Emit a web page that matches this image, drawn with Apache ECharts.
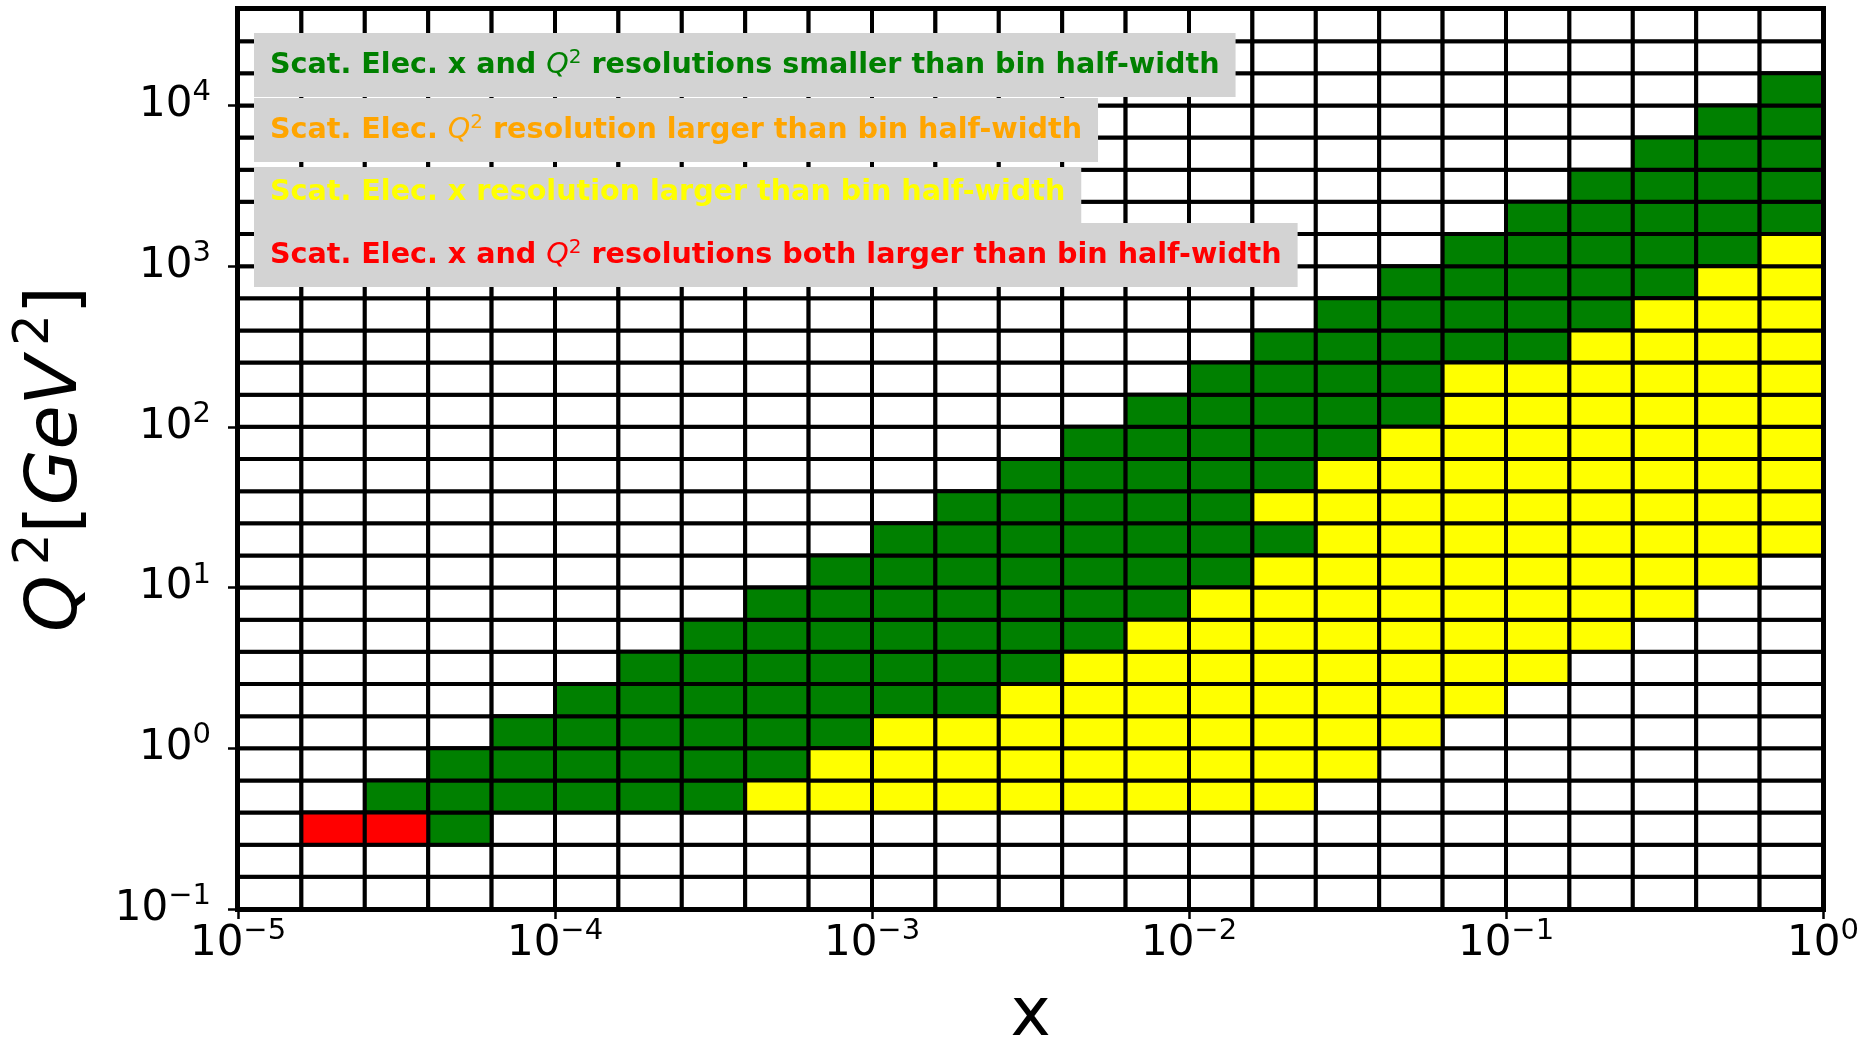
<!DOCTYPE html>
<html>
<head>
<meta charset="utf-8">
<script src="https://cdn.jsdelivr.net/npm/echarts@6/dist/echarts.min.js"></script>
<style>
  html, body { margin: 0; padding: 0; background: #ffffff; }
  #chart { width: 1870px; height: 1044px; }
</style>
</head>
<body>
<div id="chart"></div>
<script>
// ---------------- DATA ----------------
// bin edges, as powers of ten (log10 of the edge value)
const xBinEdgeExp = [-5.0, -4.8, -4.6, -4.4, -4.2, -4.0, -3.8, -3.6, -3.4, -3.2, -3.0,
  -2.8, -2.6, -2.4, -2.2, -2.0, -1.8, -1.6, -1.4, -1.2, -1.0, -0.8, -0.6, -0.4, -0.2, 0.0];
const q2BinEdgeExp = [-1.0, -0.8, -0.6, -0.4, -0.2, 0.0, 0.2, 0.4, 0.6, 0.8, 1.0, 1.2, 1.4,
  1.6, 1.8, 2.0, 2.2, 2.4, 2.6, 2.8, 3.0, 3.2, 3.4, 3.6, 3.8, 4.0, 4.2, 4.4, 4.6];

// bins by status: [Q2 bin index, first x bin index, last x bin index]
const greenBins = [
  [2, 3, 3], [3, 2, 7], [4, 3, 8], [5, 4, 9], [6, 5, 11], [7, 6, 12], [8, 7, 13],
  [9, 8, 14], [10, 9, 15], [11, 10, 16], [12, 11, 15], [13, 12, 16], [14, 13, 17],
  [15, 14, 18], [16, 15, 18], [17, 16, 20], [18, 17, 21], [19, 18, 22], [20, 19, 23],
  [21, 20, 24], [22, 21, 24], [23, 22, 24], [24, 23, 24], [25, 24, 24]
];
const orangeBins = [];
const yellowBins = [
  [3, 8, 16], [4, 9, 17], [5, 10, 18], [6, 12, 19], [7, 13, 20], [8, 14, 21],
  [9, 15, 22], [10, 16, 23], [11, 17, 24], [12, 16, 24], [13, 17, 24], [14, 18, 24],
  [15, 19, 24], [16, 19, 24], [17, 21, 24], [18, 22, 24], [19, 23, 24], [20, 24, 24]
];
const redBins = [[2, 1, 2]];

// tick labels (powers of ten)
const xMajorTicks = [-5, -4, -3, -2, -1, 0];
const yMajorTicks = [-1, 0, 1, 2, 3, 4];
const minorMantissas = [2, 3, 4, 5, 6, 7, 8, 9];

const legendLabels = [
  { pre: 'Scat. Elec. x and ', q: true, post: ' resolutions smaller than bin half-width', color: '#008000' },
  { pre: 'Scat. Elec. ', q: true, post: ' resolution larger than bin half-width', color: '#ffa500' },
  { pre: 'Scat. Elec. x resolution larger than bin half-width', q: false, post: '', color: '#ffff00' },
  { pre: 'Scat. Elec. x and ', q: true, post: ' resolutions both larger than bin half-width', color: '#ff0000' }
];

// ---------------- BUILD ----------------
const FONT = 'DejaVu Sans';

function expand(list) {
  const out = [];
  list.forEach(function (b) { for (let c = b[1]; c <= b[2]; c++) out.push([b[0], c]); });
  return out;
}
function cellValue(rc) {
  const r = rc[0], c = rc[1];
  return [xBinEdgeExp[c], xBinEdgeExp[c + 1], q2BinEdgeExp[r], q2BinEdgeExp[r + 1]];
}
const greenCells = expand(greenBins);
const orangeCells = expand(orangeBins);
const yellowCells = expand(yellowBins);
const redCells = expand(redBins);
const used = {};
[greenCells, orangeCells, yellowCells, redCells].forEach(function (l) {
  l.forEach(function (rc) { used[rc[0] + '_' + rc[1]] = true; });
});
const emptyCells = [];
for (let r = 0; r < q2BinEdgeExp.length - 1; r++) {
  for (let c = 0; c < xBinEdgeExp.length - 1; c++) {
    if (!used[r + '_' + c]) emptyCells.push([r, c]);
  }
}

function minorTicks(majors, maxExp) {
  const out = [];
  majors.forEach(function (d) {
    minorMantissas.forEach(function (m) {
      const v = d + Math.log10(m);
      if (v < maxExp) out.push(v);
    });
  });
  return out;
}
const xMinorTicks = minorTicks(xMajorTicks.slice(0, -1), 0);
const yMinorTicks = minorTicks(yMajorTicks, q2BinEdgeExp[q2BinEdgeExp.length - 1]);

function powerLabel(v) {
  const e = Math.round(v);
  return '{b|10}{s|' + (e < 0 ? '\u2212' : '') + Math.abs(e) + '}';
}
const tickRich = {
  b: { fontFamily: FONT, fontSize: 42, color: '#000' },
  s: { fontFamily: FONT, fontSize: 29, color: '#000', padding: [0, 0, 25, 0], lineHeight: 10 }
};

function cellSeries(name, color, cells) {
  return {
    type: 'custom',
    name: name,
    xAxisIndex: 0,
    yAxisIndex: 0,
    silent: true,
    clip: false,
    encode: { x: [0, 1], y: [2, 3] },
    data: cells.map(cellValue),
    renderItem: function (params, api) {
      const p0 = api.coord([api.value(0), api.value(3)]);
      const p1 = api.coord([api.value(1), api.value(2)]);
      return {
        type: 'rect',
        shape: { x: p0[0], y: p0[1], width: p1[0] - p0[0], height: p1[1] - p0[1] },
        style: { fill: color, stroke: '#000', lineWidth: 4 }
      };
    }
  };
}

function legendText(item, i) {
  const fs = 28.6;
  const base = { fill: item.color, fontFamily: FONT, fontSize: fs, fontWeight: 'bold', lineHeight: 34 };
  let text = '{t|' + item.pre + '}';
  if (item.q) text += '{q|Q}{s|2}{t|' + item.post + '}';
  const tops = [33, 98, 167, 223];
  const pads = [[16, 16, 14, 16], [16, 16, 14, 16], [9, 16, 13, 16], [16, 16, 14, 16]];
  return {
    type: 'text',
    x: 254,
    y: tops[i],
    z: 100,
    silent: true,
    style: {
      text: text,
      align: 'left',
      verticalAlign: 'top',
      backgroundColor: '#d3d3d3',
      padding: pads[i],
      lineHeight: 34,
      rich: {
        t: base,
        q: { fill: item.color, fontFamily: FONT, fontSize: fs, fontStyle: 'italic', fontWeight: 'normal', lineHeight: 34 },
        s: { fill: item.color, fontFamily: FONT, fontSize: 20, fontWeight: 'normal', padding: [0, 0, 17, 0], lineHeight: 10 }
      }
    }
  };
}

const chart = echarts.init(document.getElementById('chart'), null, { renderer: 'canvas' });

const option = {
  animation: false,
  backgroundColor: '#ffffff',
  grid: {
    left: 238, top: 9, width: 1585, height: 900,
    show: true, backgroundColor: 'transparent', borderColor: '#000', borderWidth: 6,
    containLabel: false, outerBoundsMode: 'none'
  },
  xAxis: [
    {
      type: 'value', min: -5, max: 0, position: 'bottom',
      name: 'x', nameLocation: 'middle', nameGap: 74,
      nameTextStyle: { fontFamily: FONT, fontSize: 68, color: '#000' },
      axisLine: { show: true, onZero: false, lineStyle: { color: '#000', width: 6 } },
      axisTick: { show: true, customValues: xMajorTicks, length: 10, lineStyle: { color: '#000', width: 2.5 } },
      axisLabel: { show: true, customValues: xMajorTicks, margin: 14, formatter: powerLabel, rich: tickRich },
      splitLine: { show: false }
    },
    {
      type: 'value', min: -5, max: 0, position: 'bottom',
      axisLine: { show: false },
      axisTick: { show: true, customValues: xMinorTicks, length: 5, lineStyle: { color: '#000', width: 1.5 } },
      axisLabel: { show: false },
      splitLine: { show: false }
    }
  ],
  yAxis: [
    {
      type: 'value', min: -1, max: 4.6, position: 'left',
      name: '{i|Q}{s|2}{r|[}{i|GeV}{s|2}{r|]}',
      nameLocation: 'middle', nameRotate: 90, nameGap: 137,
      nameTextStyle: {
        fontFamily: FONT, fontSize: 72, color: '#000',
        rich: {
          i: { fontFamily: FONT, fontSize: 72, fontStyle: 'italic', color: '#000' },
          r: { fontFamily: FONT, fontSize: 72, color: '#000' },
          s: { fontFamily: FONT, fontSize: 50, color: '#000', padding: [0, 0, 44, 10], lineHeight: 10 }
        }
      },
      axisLine: { show: true, onZero: false, lineStyle: { color: '#000', width: 6 } },
      axisTick: { show: true, customValues: yMajorTicks, length: 10, lineStyle: { color: '#000', width: 2.5 } },
      axisLabel: { show: true, customValues: yMajorTicks, margin: 27, formatter: powerLabel, rich: tickRich },
      splitLine: { show: false }
    },
    {
      type: 'value', min: -1, max: 4.6, position: 'left',
      axisLine: { show: false },
      axisTick: { show: true, customValues: yMinorTicks, length: 5, lineStyle: { color: '#000', width: 1.5 } },
      axisLabel: { show: false },
      splitLine: { show: false }
    }
  ],
  series: [
    cellSeries('Empty bins', '#ffffff', emptyCells),
    cellSeries(legendLabels[0].pre + 'Q2' + legendLabels[0].post, '#008000', greenCells),
    cellSeries(legendLabels[1].pre + 'Q2' + legendLabels[1].post, '#ffa500', orangeCells),
    cellSeries(legendLabels[2].pre, '#ffff00', yellowCells),
    cellSeries(legendLabels[3].pre + 'Q2' + legendLabels[3].post, '#ff0000', redCells)
  ],
  graphic: legendLabels.map(legendText)
};

chart.setOption(option);
</script>
</body>
</html>
